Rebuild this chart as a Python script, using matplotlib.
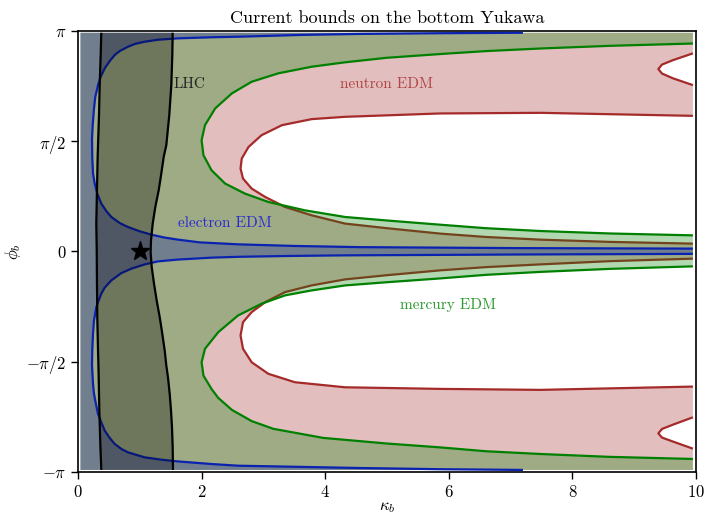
"""
Current bounds on the bottom Yukawa: EDM + LHC constraints in the (kappa_b, phi_b) plane.
"""
import numpy as np
import matplotlib
matplotlib.use("Agg")
import matplotlib.pyplot as plt
from matplotlib.patches import Polygon

plt.rcParams["font.family"] = "serif"
plt.rcParams["font.serif"] = ["cmr10", "DejaVu Serif"]
plt.rcParams["mathtext.fontset"] = "cm"
plt.rcParams["axes.formatter.use_mathtext"] = True

PI = np.pi

# ── data: contour curves (kappa_b, phi_b) ─────────────────────────────────────
# edges of the scanned grid
K_MIN, K_MAX = 0.04, 9.95
P_MAX = PI - 0.025

# electron EDM: upper lobe, right edge -> nose -> top edge
e_up_k = [9.95, 7.15, 4.56, 3.50, 2.59, 1.97, 1.618, 1.403, 1.186, 0.998, 0.809, 0.675, 0.539, 0.458,
          0.377, 0.312, 0.270, 0.243, 0.231, 0.227, 0.238, 0.259, 0.280, 0.324, 0.367, 0.432,
          0.513, 0.594, 0.675, 0.809, 0.917, 1.079, 1.294, 1.618, 2.157, 2.589, 3.59, 4.56,
          5.86, 7.20]
e_up_p = [0.039, 0.046, 0.060, 0.077, 0.100, 0.128, 0.167, 0.196, 0.238, 0.286, 0.347, 0.404, 0.490, 0.575,
          0.681, 0.824, 0.967, 1.110, 1.347, 1.609, 1.799, 2.038, 2.203, 2.370, 2.489, 2.609,
          2.713, 2.799, 2.856, 2.917, 2.956, 2.989, 3.017, 3.037, 3.052, 3.060, 3.085, 3.100,
          3.110, P_MAX]
# electron EDM: lower lobe, bottom edge -> nose -> right edge
e_lo_k = [7.20, 5.86, 4.56, 2.589, 2.157, 1.618, 1.348, 1.079, 0.809, 0.701, 0.594, 0.513, 0.432,
          0.377, 0.324, 0.296, 0.259, 0.243, 0.227, 0.231, 0.243, 0.259, 0.296, 0.324, 0.377,
          0.432, 0.539, 0.701, 0.862, 1.079, 1.294, 1.618, 2.157, 2.589, 3.40, 4.32, 7.15, 9.95]
e_lo_p = [-P_MAX, -3.106, -3.089, -3.056, -3.032, -2.995, -2.970, -2.937, -2.866, -2.817, -2.746, -2.660, -2.556,
          -2.438, -2.318, -2.199, -2.032, -1.889, -1.628, -1.414, -1.175, -0.985, -0.795, -0.724, -0.604,
          -0.518, -0.414, -0.310, -0.247, -0.186, -0.143, -0.117, -0.090, -0.078, -0.066, -0.057, -0.045, -0.036]

# mercury EDM: upper lobe, lower branch -> nose -> upper branch
m_up_k = [9.95, 8.60, 7.48, 6.60, 5.86, 5.00, 4.32, 3.67, 3.08, 2.70, 2.38, 2.16, 2.03, 2.00,
          2.055, 2.22, 2.49, 2.81, 3.24, 3.78, 4.32, 5.00, 5.86, 6.60, 7.48, 8.60, 9.95]
m_up_p = [0.228, 0.255, 0.290, 0.330, 0.380, 0.440, 0.490, 0.585, 0.704, 0.824, 0.967, 1.157, 1.371, 1.585,
          1.799, 2.038, 2.252, 2.418, 2.538, 2.632, 2.695, 2.760, 2.813, 2.855, 2.892, 2.930, 2.963]
# mercury EDM: lower lobe, lower branch -> nose -> upper branch
m_lo_k = [9.95, 8.60, 7.48, 6.60, 5.86, 5.00, 3.97, 3.16, 2.81, 2.49, 2.27, 2.16, 2.03, 2.00,
          2.055, 2.27, 2.59, 2.97, 3.35, 3.78, 4.32, 5.00, 5.86, 6.60, 7.48, 8.60, 9.95]
m_lo_p = [-2.960, -2.930, -2.889, -2.850, -2.795, -2.740, -2.660, -2.530, -2.420, -2.260, -2.090, -1.961, -1.771, -1.581,
          -1.389, -1.152, -0.914, -0.747, -0.628, -0.557, -0.486, -0.440, -0.386, -0.335, -0.293, -0.250, -0.214]

# neutron EDM: upper inner curve, lower branch -> nose -> upper branch
n_up_k = [9.95, 8.60, 7.48, 6.60, 5.86, 5.00, 4.32, 3.78, 3.35, 3.03, 2.81, 2.67, 2.63,
          2.65, 2.76, 2.97, 3.30, 3.78, 4.32, 5.86, 7.48, 9.95]
n_up_p = [0.110, 0.135, 0.167, 0.205, 0.253, 0.330, 0.396, 0.514, 0.633, 0.775, 0.895, 1.038, 1.181,
          1.324, 1.489, 1.656, 1.799, 1.885, 1.918, 1.966, 1.975, 1.932]
# neutron EDM: lower inner curve, lower branch -> nose -> upper branch
n_lo_k = [9.95, 7.48, 5.86, 4.32, 3.51, 3.08, 2.81, 2.67, 2.63,
          2.67, 2.81, 3.03, 3.35, 3.78, 4.32, 5.00, 5.86, 6.60, 7.48, 8.60, 9.95]
n_lo_p = [-1.928, -1.975, -1.961, -1.938, -1.866, -1.746, -1.581, -1.389, -1.200,
          -1.010, -0.867, -0.724, -0.581, -0.486, -0.400, -0.340, -0.271, -0.225, -0.186, -0.140, -0.104]
# neutron EDM: small arcs at the right edge (bottom -> top)
n_arc_up_k = [9.95, 9.63, 9.45, 9.39, 9.45, 9.63, 9.95]
n_arc_up_p = [2.370, 2.466, 2.535, 2.599, 2.663, 2.727, 2.823]
n_arc_lo_k = [9.95, 9.63, 9.45, 9.39, 9.45, 9.63, 9.95]
n_arc_lo_p = [-2.813, -2.713, -2.655, -2.595, -2.532, -2.470, -2.366]

# LHC band (bottom -> top)
lhc_l_k = [0.377, 0.361, 0.345, 0.335, 0.324, 0.312, 0.307, 0.303, 0.296, 0.307, 0.318,
           0.324, 0.340, 0.351, 0.367, 0.377]
lhc_l_p = [-P_MAX, -2.746, -2.271, -1.795, -1.414, -0.938, -0.461, 0.014, 0.396, 0.871, 1.347,
           1.514, 1.942, 2.370, 2.799, P_MAX]
lhc_r_k = [1.537, 1.532, 1.521, 1.505, 1.484, 1.456, 1.429, 1.403, 1.364, 1.322, 1.273, 1.230,
           1.193, 1.175, 1.181, 1.209, 1.251, 1.306, 1.348, 1.387, 1.429, 1.477, 1.510, 1.526, 1.532]
lhc_r_p = [-P_MAX, -2.795, -2.509, -2.271, -2.032, -1.795, -1.628, -1.414, -1.175, -0.938, -0.700, -0.461,
           -0.224, -0.014, 0.157, 0.396, 0.633, 0.871, 1.110, 1.347, 1.514, 1.942, 2.370, 2.799, P_MAX]

sm_point = (1.0, 0.0)

# ── colours ───────────────────────────────────────────────────────────────────
c_n = "#a52a2a"
c_m = "#008000"
c_e = "#0619a7"
alpha = 0.3


def xy(k, p):
    return np.column_stack([k, p])


# allowed regions = data rectangle with the excluded lobes cut out along the right edge
bl = xy([K_MIN], [-P_MAX])
tl = xy([K_MIN], [P_MAX])
br = xy([K_MAX], [-P_MAX])
tr = xy([K_MAX], [P_MAX])

n_allowed = np.vstack([bl, br, xy(n_arc_lo_k, n_arc_lo_p), xy(n_lo_k, n_lo_p),
                       xy(n_up_k, n_up_p), xy(n_arc_up_k, n_arc_up_p), tr, tl])
m_allowed = np.vstack([bl, br, xy(m_lo_k, m_lo_p), xy(m_up_k, m_up_p), tr, tl])
e_allowed = np.vstack([bl, xy(e_lo_k, e_lo_p), xy(e_up_k, e_up_p), tl])
lhc_band = np.vstack([xy(lhc_l_k, lhc_l_p), xy(lhc_r_k, lhc_r_p)[::-1]])

# ── plot ──────────────────────────────────────────────────────────────────────
fig = plt.figure(figsize=(7.06, 5.15), dpi=100)
ax = fig.add_axes([78 / 706, 43.3 / 515, 618 / 706, 440.7 / 515])

line_kw = dict(lw=1.6, solid_joinstyle="round", solid_capstyle="butt")

# neutron
ax.add_patch(Polygon(n_allowed, closed=True, facecolor=c_n, alpha=alpha, edgecolor="none", zorder=1))
for k, p in [(n_up_k, n_up_p), (n_lo_k, n_lo_p), (n_arc_up_k, n_arc_up_p), (n_arc_lo_k, n_arc_lo_p)]:
    ax.plot(k, p, color=c_n, zorder=1.5, **line_kw)

# mercury
ax.add_patch(Polygon(m_allowed, closed=True, facecolor=c_m, alpha=alpha, edgecolor="none", zorder=2))
for k, p in [(m_up_k, m_up_p), (m_lo_k, m_lo_p)]:
    ax.plot(k, p, color=c_m, zorder=2.5, **line_kw)

# electron
ax.add_patch(Polygon(e_allowed, closed=True, facecolor=c_e, alpha=alpha, edgecolor="none", zorder=3))
for k, p in [(e_up_k, e_up_p), (e_lo_k, e_lo_p)]:
    ax.plot(k, p, color="#0a22b0", zorder=3.5, **line_kw)

# LHC
ax.add_patch(Polygon(lhc_band, closed=True, facecolor="black", alpha=0.3, edgecolor="none", zorder=4))
ax.plot(lhc_l_k, lhc_l_p, color="black", zorder=4.5, **line_kw)
ax.plot(lhc_r_k, lhc_r_p, color="black", zorder=4.5, **line_kw)

ax.plot(*sm_point, marker="*", color="black", ms=14, zorder=6)

ax.text(1.55, 2.385, "LHC", color="#222222", fontsize=11, va="center", ha="left", zorder=7)
ax.text(4.24, 2.38, "neutron EDM", color="#b04545", fontsize=11, va="center", ha="left", zorder=7)
ax.text(1.62, 0.40, "electron EDM", color="#2a2ad0", fontsize=11, va="center", ha="left", zorder=7)
ax.text(5.21, -0.77, "mercury EDM", color="#2e9a2e", fontsize=11, va="center", ha="left", zorder=7)

ax.set_xlim(0, 10)
ax.set_ylim(-PI, PI)
ax.set_xticks([0, 2, 4, 6, 8, 10])
ax.set_yticks([-PI, -PI / 2, 0, PI / 2, PI])
ax.set_yticklabels([r"$-\pi$", r"$-\pi/2$", r"$0$", r"$\pi/2$", r"$\pi$"])
ax.tick_params(direction="out", length=5, width=1, labelsize=12)
for s in ax.spines.values():
    s.set_linewidth(1.2)

ax.set_xlabel(r"$\kappa_b$", fontsize=12, labelpad=0)
ax.set_ylabel(r"$\phi_b$", fontsize=12, labelpad=2)
ax.set_title("Current bounds on the bottom Yukawa", fontsize=13)

fig.savefig("out.png", dpi=100)
